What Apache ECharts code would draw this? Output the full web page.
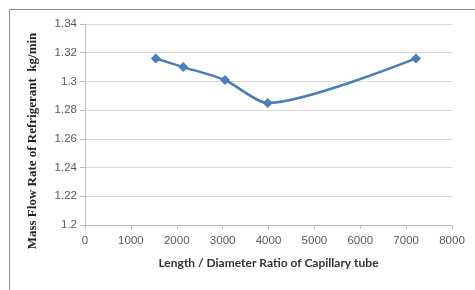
<!DOCTYPE html>
<html>
<head>
<meta charset="utf-8">
<script src="https://cdn.jsdelivr.net/npm/echarts@6/dist/echarts.min.js"></script>
<style>
  html, body { margin: 0; padding: 0; background: #ffffff; }
  #chart { width: 475px; height: 290px; }
</style>
</head>
<body>
<div id="chart"></div>
<script>
  // values
  var ratio = [1544, 2140, 3052, 3983, 7214];
  var massFlow = [1.316, 1.310, 1.301, 1.285, 1.316];

  var xName = 'Length / Diameter Ratio of Capillary tube';
  var yName = 'Mass Flow Rate of Refrigerant  kg/min';

  var points = [];
  for (var i = 0; i < ratio.length; i++) {
    points.push([ratio[i], massFlow[i]]);
  }

  var myChart = echarts.init(document.getElementById('chart'), null, {renderer: 'canvas'});
  var option = {
    animation: false,
    backgroundColor: '#ffffff',
    grid: {
      left: 85,
      right: 23,
      top: 24,
      bottom: 65
    },
    xAxis: {
      type: 'value',
      min: 0,
      max: 8000,
      interval: 1000,
      name: xName,
      nameLocation: 'middle',
      nameGap: 32,
      nameTextStyle: {
        fontFamily: 'Lato',
        fontWeight: 'bold',
        fontSize: 12,
        color: '#333333'
      },
      axisLine: {lineStyle: {color: '#bfbfbf', width: 1}},
      axisTick: {show: true, length: 4, lineStyle: {color: '#bfbfbf'}},
      axisLabel: {
        fontFamily: 'Liberation Sans',
        fontSize: 11.5,
        color: '#595959',
        margin: 10,
        formatter: function (v) { return String(v); }
      },
      splitLine: {show: false}
    },
    yAxis: {
      type: 'value',
      min: 1.2,
      max: 1.34,
      interval: 0.02,
      axisLine: {show: true, lineStyle: {color: '#bfbfbf', width: 1}},
      axisTick: {show: true, length: 5, lineStyle: {color: '#bfbfbf'}},
      axisLabel: {
        fontFamily: 'Liberation Sans',
        fontSize: 11.5,
        color: '#595959',
        margin: 8,
        formatter: function (v) { return String(parseFloat(v.toFixed(2))); }
      },
      splitLine: {lineStyle: {color: '#d9d9d9', width: 1}}
    },
    graphic: [
      {
        type: 'line',
        shape: {x1: 9, y1: 9.5, x2: 475, y2: 9.5},
        style: {stroke: '#8c8c8c', lineWidth: 1}
      },
      {
        type: 'line',
        shape: {x1: 9.5, y1: 9, x2: 9.5, y2: 290},
        style: {stroke: '#8c8c8c', lineWidth: 1}
      },
      {
        type: 'text',
        x: 33,
        y: 141,
        rotation: Math.PI / 2,
        style: {
          text: yName,
          font: 'bold 13px "Liberation Serif"',
          fill: '#222222',
          align: 'center',
          verticalAlign: 'middle'
        }
      }
    ],
    series: [
      {
        type: 'line',
        data: points,
        smooth: 0.25,
        symbol: 'diamond',
        symbolSize: 10,
        lineStyle: {color: '#4a7ebb', width: 2.5},
        itemStyle: {color: '#4a7ebb'}
      }
    ]
  };
  myChart.setOption(option);
</script>
</body>
</html>
